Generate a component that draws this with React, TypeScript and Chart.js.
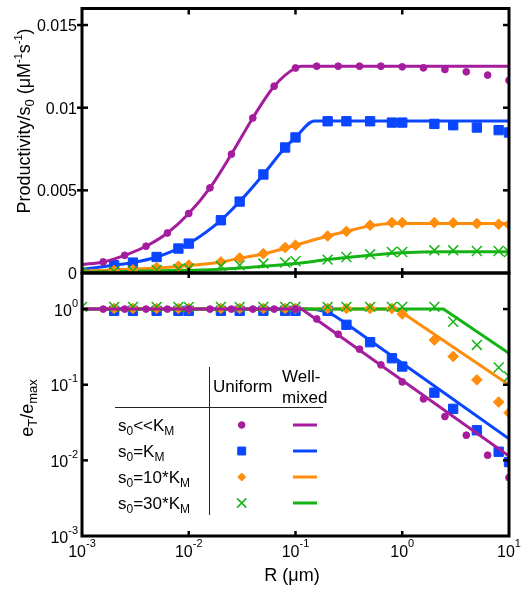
import React, { useEffect, useRef } from 'react';
import { Chart, registerables, PointElement } from 'chart.js';

Chart.register(...registerables);

// ---------------- data ----------------
// R grid of the "uniform" s0<<KM points
const rMagenta = [0.00158, 0.00251, 0.00398, 0.00631, 0.01, 0.0158, 0.0251, 0.0398, 0.0631, 0.1, 0.158, 0.251, 0.398, 0.631, 1, 1.58, 2.51, 3.98, 6.31, 10];
// R grid of the other uniform series
const rUniform = [0.002, 0.003, 0.005, 0.008, 0.01, 0.02, 0.03, 0.05, 0.08, 0.1, 0.2, 0.3, 0.5, 0.8, 1, 2, 3, 5, 8, 10];
const rGreen = [0.001, 0.002, 0.003, 0.005, 0.008, 0.01, 0.02, 0.03, 0.05, 0.08, 0.1, 0.2, 0.3, 0.5, 0.8, 1, 2, 3, 5, 8, 10];

// top panel: productivity / s0 (uniform, markers)
const prodMagenta = [0.00067, 0.00107, 0.00162, 0.00242, 0.0036, 0.00515, 0.00719, 0.00938, 0.0113, 0.0124, 0.01251, 0.01251, 0.01251, 0.01251, 0.01247, 0.01241, 0.01231, 0.01217, 0.01197, 0.01165];
const prodBlue = [0.00047, 0.00063, 0.00097, 0.00148, 0.00178, 0.00319, 0.00432, 0.00596, 0.00759, 0.0082, 0.00918, 0.00918, 0.00918, 0.0091, 0.0091, 0.00902, 0.00894, 0.0088, 0.00864, 0.0085];
const prodOrange = [0.00015, 0.0002, 0.00033, 0.00041, 0.00048, 0.00067, 0.00091, 0.00117, 0.00154, 0.00168, 0.00224, 0.00252, 0.00289, 0.00305, 0.00305, 0.00305, 0.00303, 0.00299, 0.00295, 0.00293];
const prodGreen = [0.00005, 0.0001, 0.00012, 0.00018, 0.00025, 0.00028, 0.00042, 0.00047, 0.00057, 0.00063, 0.00071, 0.00081, 0.00097, 0.00113, 0.00127, 0.00127, 0.00137, 0.00137, 0.00133, 0.00133, 0.00127];

// top panel: well-mixed curves
const rCurveMagenta = [0.001, 0.00158, 0.00251, 0.00398, 0.00631, 0.01, 0.0158, 0.0251, 0.0398, 0.0631, 0.1, 0.115, 10];
const prodCurveMagenta = [0.00051, 0.00067, 0.00107, 0.00162, 0.00242, 0.0036, 0.00515, 0.00719, 0.00938, 0.0113, 0.0124, 0.0125, 0.0125];
const rCurveBlue = [0.001, 0.002, 0.003, 0.005, 0.008, 0.01, 0.02, 0.03, 0.05, 0.08, 0.1, 0.15, 10];
const prodCurveBlue = [0.00022, 0.00047, 0.00063, 0.00097, 0.00148, 0.00178, 0.00319, 0.00432, 0.00596, 0.00759, 0.0082, 0.0092, 0.0092];
const rCurveOrange = [0.001, 0.005, 0.01, 0.02, 0.03, 0.05, 0.1, 0.2, 0.3, 0.5, 0.8, 10];
const prodCurveOrange = [0.00012, 0.0003, 0.00045, 0.00066, 0.0009, 0.00115, 0.00168, 0.00224, 0.00252, 0.00285, 0.003, 0.003];
const rCurveGreen = [0.001, 0.01, 0.02, 0.05, 0.1, 0.2, 0.5, 1, 2.5, 10];
const prodCurveGreen = [0.00005, 0.00016, 0.00022, 0.0004, 0.00057, 0.00081, 0.00107, 0.00122, 0.00128, 0.00128];

// bottom panel: eT/emax (uniform, markers)
const effMagenta = [1, 1, 1, 1, 1, 1, 1, 1, 1, 1, 0.74, 0.465, 0.295, 0.183, 0.109, 0.065, 0.038, 0.0215, 0.0117, 0.0059];
const effBlue = [0.95, 0.95, 0.95, 0.95, 0.95, 0.95, 0.95, 0.95, 0.95, 0.95, 0.95, 0.62, 0.365, 0.224, 0.174, 0.0785, 0.048, 0.025, 0.013, 0.0095];
const effOrange = [1.02, 1.02, 1.02, 1.02, 1.02, 1.02, 1.02, 1.02, 1.02, 1.02, 1.02, 1.02, 1.02, 1.02, 0.86, 0.39, 0.236, 0.116, 0.059, 0.0425];
const effGreen = [1.07, 1.07, 1.07, 1.07, 1.07, 1.07, 1.07, 1.07, 1.07, 1.07, 1.07, 1.07, 1.07, 1.07, 1.07, 1.07, 1.07, 0.68, 0.336, 0.169, 0.129];

// bottom panel: well-mixed lines
const rLineMagenta = [0.001, 0.114, 10];
const effLineMagenta = [1, 1, 0.0114];
const rLineBlue = [0.001, 0.13, 0.16, 0.19, 0.23, 0.3, 10];
const effLineBlue = [1, 1, 0.98, 0.93, 0.82, 0.64, 0.0193];
const rLineOrange = [0.001, 0.89, 10];
const effLineOrange = [1, 1, 0.1];
const rLineGreen = [0.001, 2.43, 10];
const effLineGreen = [1, 1, 0.261];

// ticks
const xTickValues = [0.001, 0.01, 0.1, 1, 10];
const xTickExps = ['-3', '-2', '-1', '0', '1'];
const topYTicks = [0, 0.005, 0.01, 0.015];
const topYTickLabels = ['0', '0.005', '0.01', '0.015'];
const botYTicks = [1, 0.1, 0.01, 0.001];
const botYTickExps = ['0', '-1', '-2', '-3'];

const legendRows = [
  [{ t: 's', sub: false }, { t: '0', sub: true }, { t: '<<K', sub: false }, { t: 'M', sub: true }],
  [{ t: 's', sub: false }, { t: '0', sub: true }, { t: '=K', sub: false }, { t: 'M', sub: true }],
  [{ t: 's', sub: false }, { t: '0', sub: true }, { t: '=10*K', sub: false }, { t: 'M', sub: true }],
  [{ t: 's', sub: false }, { t: '0', sub: true }, { t: '=30*K', sub: false }, { t: 'M', sub: true }],
];

// ---------------- styles ----------------
const MAGENTA = '#A51C9C';
const BLUE = '#0A46FF';
const ORANGE = '#FF8C0A';
const GREEN = '#14B414';
const FONT = '"Liberation Sans", Arial, Helvetica, sans-serif';

const markerStyles = [
  { color: MAGENTA, style: 'circle', r: 3.4, bw: 1 },
  { color: BLUE, style: 'rect', r: 6.6, bw: 1 },
  { color: ORANGE, style: 'rectRot', r: 5.3, bw: 1 },
  { color: GREEN, style: 'crossRot', r: 7, bw: 1.5 },
];

type Run = { t: string; size: number; dy?: number };

function drawRuns(ctx: CanvasRenderingContext2D, runs: Run[], x: number, y: number, align: 'left' | 'center' | 'right') {
  let w = 0;
  for (const r of runs) {
    ctx.font = `${r.size}px ${FONT}`;
    w += ctx.measureText(r.t).width;
  }
  let cx = align === 'left' ? x : align === 'center' ? x - w / 2 : x - w;
  ctx.textAlign = 'left';
  ctx.textBaseline = 'alphabetic';
  for (const r of runs) {
    ctx.font = `${r.size}px ${FONT}`;
    ctx.fillText(r.t, cx, y + (r.dy || 0));
    cx += ctx.measureText(r.t).width;
  }
}

function seg(ctx: CanvasRenderingContext2D, x1: number, y1: number, x2: number, y2: number) {
  ctx.beginPath();
  ctx.moveTo(x1, y1);
  ctx.lineTo(x2, y2);
  ctx.stroke();
}

function pts(xs: number[], ys: number[]) {
  return xs.map((x, i) => ({ x, y: ys[i] }));
}

function markerDs(xs: number[], ys: number[], k: number) {
  const m = markerStyles[k];
  return {
    data: pts(xs, ys),
    showLine: false,
    pointStyle: m.style,
    pointRadius: m.r,
    pointBackgroundColor: m.color,
    pointBorderColor: m.color,
    pointBorderWidth: m.bw,
    clip: 0,
  } as any;
}

function lineDs(xs: number[], ys: number[], color: string, smooth: boolean) {
  return {
    data: pts(xs, ys),
    showLine: true,
    borderColor: color,
    borderWidth: 3,
    pointRadius: 0,
    fill: false,
    tension: 0,
    cubicInterpolationMode: smooth ? 'monotone' : 'default',
    clip: 0,
  } as any;
}

const topDecor = {
  id: 'topDecor',
  afterDraw(chart: any) {
    const { ctx, chartArea: a, scales } = chart;
    const x = scales.x;
    const y = scales.y;
    ctx.save();
    ctx.strokeStyle = '#000';
    ctx.fillStyle = '#000';
    ctx.lineWidth = 3;
    ctx.strokeRect(a.left, a.top, a.right - a.left, a.bottom - a.top);
    ctx.lineWidth = 2.5;
    xTickValues.forEach((v) => {
      if (v <= 0.001 || v >= 10) return;
      const px = x.getPixelForValue(v);
      seg(ctx, px, a.top, px, a.top + 6);
      seg(ctx, px, a.bottom - 5, px, a.bottom + 5);
    });
    topYTicks.forEach((v, i) => {
      const py = y.getPixelForValue(v);
      if (v > 0) {
        seg(ctx, a.left - 5, py, a.left + 6, py);
        seg(ctx, a.right - 6, py, a.right, py);
      }
      ctx.font = `16px ${FONT}`;
      ctx.textAlign = 'right';
      ctx.textBaseline = 'alphabetic';
      ctx.fillText(topYTickLabels[i], a.left - 5, py + 6);
    });
    // y title
    ctx.translate(30, 121);
    ctx.rotate(-Math.PI / 2);
    drawRuns(
      ctx,
      [
        { t: 'Productivity/s', size: 18 },
        { t: '0', size: 13, dy: 4 },
        { t: ' (\u03bcM', size: 18 },
        { t: '-1', size: 11, dy: -8 },
        { t: 's', size: 18 },
        { t: '-1', size: 11, dy: -8 },
        { t: ')', size: 18 },
      ],
      0,
      0,
      'center'
    );
    ctx.restore();
  },
};

const botDecor = {
  id: 'botDecor',
  afterDraw(chart: any) {
    const { ctx, chartArea: a, scales } = chart;
    const x = scales.x;
    const y = scales.y;
    ctx.save();
    ctx.strokeStyle = '#000';
    ctx.fillStyle = '#000';
    ctx.lineWidth = 3;
    ctx.strokeRect(a.left, a.top, a.right - a.left, a.bottom - a.top);
    ctx.lineWidth = 2.5;
    xTickValues.forEach((v, i) => {
      const px = x.getPixelForValue(v);
      if (v > 0.001 && v < 10) seg(ctx, px, a.bottom - 5, px, a.bottom);
      drawRuns(ctx, [{ t: '10', size: 16 }, { t: xTickExps[i], size: 11, dy: -10 }], px, a.bottom + 21, 'center');
    });
    botYTicks.forEach((v, i) => {
      const py = y.getPixelForValue(v);
      if (v > 0.001) {
        seg(ctx, a.left, py, a.left + 6, py);
        seg(ctx, a.right - 6, py, a.right, py);
      }
      drawRuns(ctx, [{ t: '10', size: 16 }, { t: botYTickExps[i], size: 11, dy: -9 }], a.left - 4, py + 6.5, 'right');
    });
    // x title
    ctx.font = `18px ${FONT}`;
    ctx.textAlign = 'center';
    ctx.fillText('R (\u03bcm)', 292, 581);

    // legend table
    ctx.strokeStyle = '#222';
    ctx.lineWidth = 1;
    seg(ctx, 209.5, 367, 209.5, 515);
    seg(ctx, 115, 407.5, 323, 407.5);
    ctx.fillStyle = '#000';
    drawRuns(ctx, [{ t: 'Uniform', size: 17 }], 213, 392, 'left');
    drawRuns(ctx, [{ t: 'Well-', size: 17 }], 282, 381.5, 'left');
    drawRuns(ctx, [{ t: 'mixed', size: 17 }], 282, 403, 'left');
    const rowY = [425, 451, 477, 503];
    const lineColors = [MAGENTA, BLUE, ORANGE, GREEN];
    const legendR = [3.3, 5.6, 4, 6.5];
    legendRows.forEach((row, i) => {
      ctx.fillStyle = '#000';
      drawRuns(
        ctx,
        row.map((p) => (p.sub ? { t: p.t, size: 12, dy: 4 } : { t: p.t, size: 17 })),
        118,
        rowY[i] + 5.5,
        'left'
      );
      const m = markerStyles[i];
      const pe: any = new PointElement({
        x: 241.7,
        y: rowY[i],
        options: {
          pointStyle: m.style,
          radius: legendR[i],
          rotation: 0,
          backgroundColor: m.color,
          borderColor: m.color,
          borderWidth: m.bw,
        },
      } as any);
      pe.draw(ctx, a);
      ctx.strokeStyle = lineColors[i];
      ctx.lineWidth = 3;
      seg(ctx, 293, rowY[i], 317, rowY[i]);
    });
    ctx.fillStyle = '#000';
    // y title
    ctx.translate(32.5, 408);
    ctx.rotate(-Math.PI / 2);
    drawRuns(
      ctx,
      [
        { t: 'e', size: 18 },
        { t: 'T', size: 13, dy: 4 },
        { t: '/e', size: 18 },
        { t: 'max', size: 13, dy: 4 },
      ],
      0,
      0,
      'center'
    );
    ctx.restore();
  },
};

const hiddenScale = (type: string, min: number, max: number) => ({
  type,
  min,
  max,
  display: false,
});

export default function App() {
  const topRef = useRef<HTMLCanvasElement>(null);
  const botRef = useRef<HTMLCanvasElement>(null);

  useEffect(() => {
    const common: any = {
      responsive: false,
      animation: false,
      devicePixelRatio: 1,
      events: [],
      plugins: { legend: { display: false }, tooltip: { enabled: false } },
    };
    const top = new Chart(topRef.current as HTMLCanvasElement, {
      type: 'scatter',
      data: {
        datasets: [
          markerDs(rMagenta, prodMagenta, 0),
          lineDs(rCurveMagenta, prodCurveMagenta, MAGENTA, true),
          markerDs(rGreen, prodGreen, 3),
          markerDs(rUniform, prodOrange, 2),
          markerDs(rUniform, prodBlue, 1),
          lineDs(rCurveGreen, prodCurveGreen, GREEN, true),
          lineDs(rCurveOrange, prodCurveOrange, ORANGE, true),
          lineDs(rCurveBlue, prodCurveBlue, BLUE, true),
        ],
      },
      options: {
        ...common,
        layout: { padding: { left: 82, top: 8, right: 19, bottom: 316 } },
        scales: {
          x: hiddenScale('logarithmic', 0.001, 10),
          y: hiddenScale('linear', 0, 0.016),
        },
      },
      plugins: [topDecor],
    } as any);
    const bot = new Chart(botRef.current as HTMLCanvasElement, {
      type: 'scatter',
      data: {
        datasets: [
          markerDs(rMagenta, effMagenta, 0),
          lineDs(rLineMagenta, effLineMagenta, MAGENTA, false),
          markerDs(rGreen, effGreen, 3),
          markerDs(rUniform, effOrange, 2),
          markerDs(rUniform, effBlue, 1),
          lineDs(rLineGreen, effLineGreen, GREEN, false),
          lineDs(rLineOrange, effLineOrange, ORANGE, false),
          lineDs(rLineBlue, effLineBlue, BLUE, false),
        ],
      },
      options: {
        ...common,
        layout: { padding: { left: 82, top: 273, right: 19, bottom: 53 } },
        scales: {
          x: hiddenScale('logarithmic', 0.001, 10),
          y: hiddenScale('logarithmic', 0.001, 3),
        },
      },
      plugins: [botDecor],
    } as any);
    return () => {
      top.destroy();
      bot.destroy();
    };
  }, []);

  return (
    <div style={{ position: 'absolute', left: 0, top: 0, width: 528, height: 589, background: '#fff' }}>
      <canvas ref={topRef} width={528} height={589} style={{ position: 'absolute', left: 0, top: 0 }} />
      <canvas ref={botRef} width={528} height={589} style={{ position: 'absolute', left: 0, top: 0 }} />
    </div>
  );
}
